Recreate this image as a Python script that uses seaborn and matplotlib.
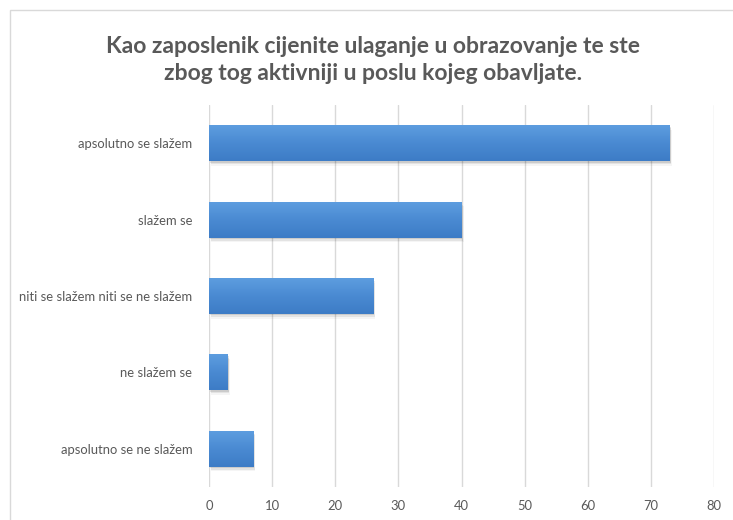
import matplotlib
matplotlib.use("Agg")
import matplotlib.pyplot as plt
import seaborn as sns
import pandas as pd
import numpy as np
from matplotlib.patches import Rectangle
from matplotlib.colors import LinearSegmentedColormap

categories = [
    "apsolutno se slažem",
    "slažem se",
    "niti se slažem niti se ne slažem",
    "ne slažem se",
    "apsolutno se ne slažem",
]
values = [73, 40, 26, 3, 7]
x_ticks = [0, 10, 20, 30, 40, 50, 60, 70, 80]
title = "Kao zaposlenik cijenite ulaganje u obrazovanje te ste\nzbog tog aktivniji u poslu kojeg obavljate."

df = pd.DataFrame({"odgovor": categories, "broj": values})

sns.set_theme(style="white")
plt.rcParams["font.family"] = ["Lato", "DejaVu Sans"]

W, H = 733, 520
fig = plt.figure(figsize=(W / 100, H / 100), dpi=100)
fig.patch.set_facecolor("white")

# chart frame
fig.patches.append(Rectangle((10 / W, -0.05), 1.0, 1 - 10 / H + 0.05,
                             transform=fig.transFigure, fill=False,
                             edgecolor="#d9d9d9", linewidth=1.0))

ax = fig.add_axes([209 / W, 1 - 487 / H, (714 - 209) / W, (487 - 105) / H])
sns.barplot(data=df, x="broj", y="odgovor", orient="h", color="#4a88d0",
            width=0.47, ax=ax, saturation=1, linewidth=0)

ax.set_xlim(0, 80)
ax.set_ylim(4.5, -0.5)

# vertical gradient fill and soft shadow on each bar
grad = LinearSegmentedColormap.from_list("bar", ["#5d9ddf", "#4a8ad2", "#3d7cc6"])
gimg = np.linspace(0, 1, 64).reshape(-1, 1)
for bar in list(ax.patches):
    x0, y0 = bar.get_x(), bar.get_y()
    w, h = bar.get_width(), bar.get_height()
    for k, a in enumerate([0.10, 0.07, 0.04]):
        ax.add_patch(Rectangle((x0 + 0.12 * (k + 1), y0 + 0.02 * (k + 1)), w, h,
                               facecolor="#000000", alpha=a, linewidth=0, zorder=1.5))
    bar.set_zorder(2)
    im = ax.imshow(gimg, cmap=grad, aspect="auto", extent=(x0, x0 + w, y0 + h, y0),
                   zorder=2.5, interpolation="bilinear")
    im.set_clip_path(bar)

ax.set_xlim(0, 80)
ax.set_ylim(4.5, -0.5)
ax.set_xticks(x_ticks)
ax.set_xticklabels([str(t) for t in x_ticks])
ax.xaxis.grid(True, color="#d9d9d9", linewidth=1.0)
ax.set_axisbelow(True)
for s in ax.spines.values():
    s.set_visible(False)
ax.set_xlabel("")
ax.set_ylabel("")
ax.tick_params(axis="both", length=0, labelsize=9.4, labelcolor="#595959")
ax.tick_params(axis="x", pad=9)
ax.tick_params(axis="y", pad=12)

fig.text(0.5 + 7 / W, 1 - 60 / H, title, ha="center", va="center",
         fontsize=16.5, fontweight="bold", color="#595959", linespacing=1.3)

fig.savefig("out.png", dpi=100)
